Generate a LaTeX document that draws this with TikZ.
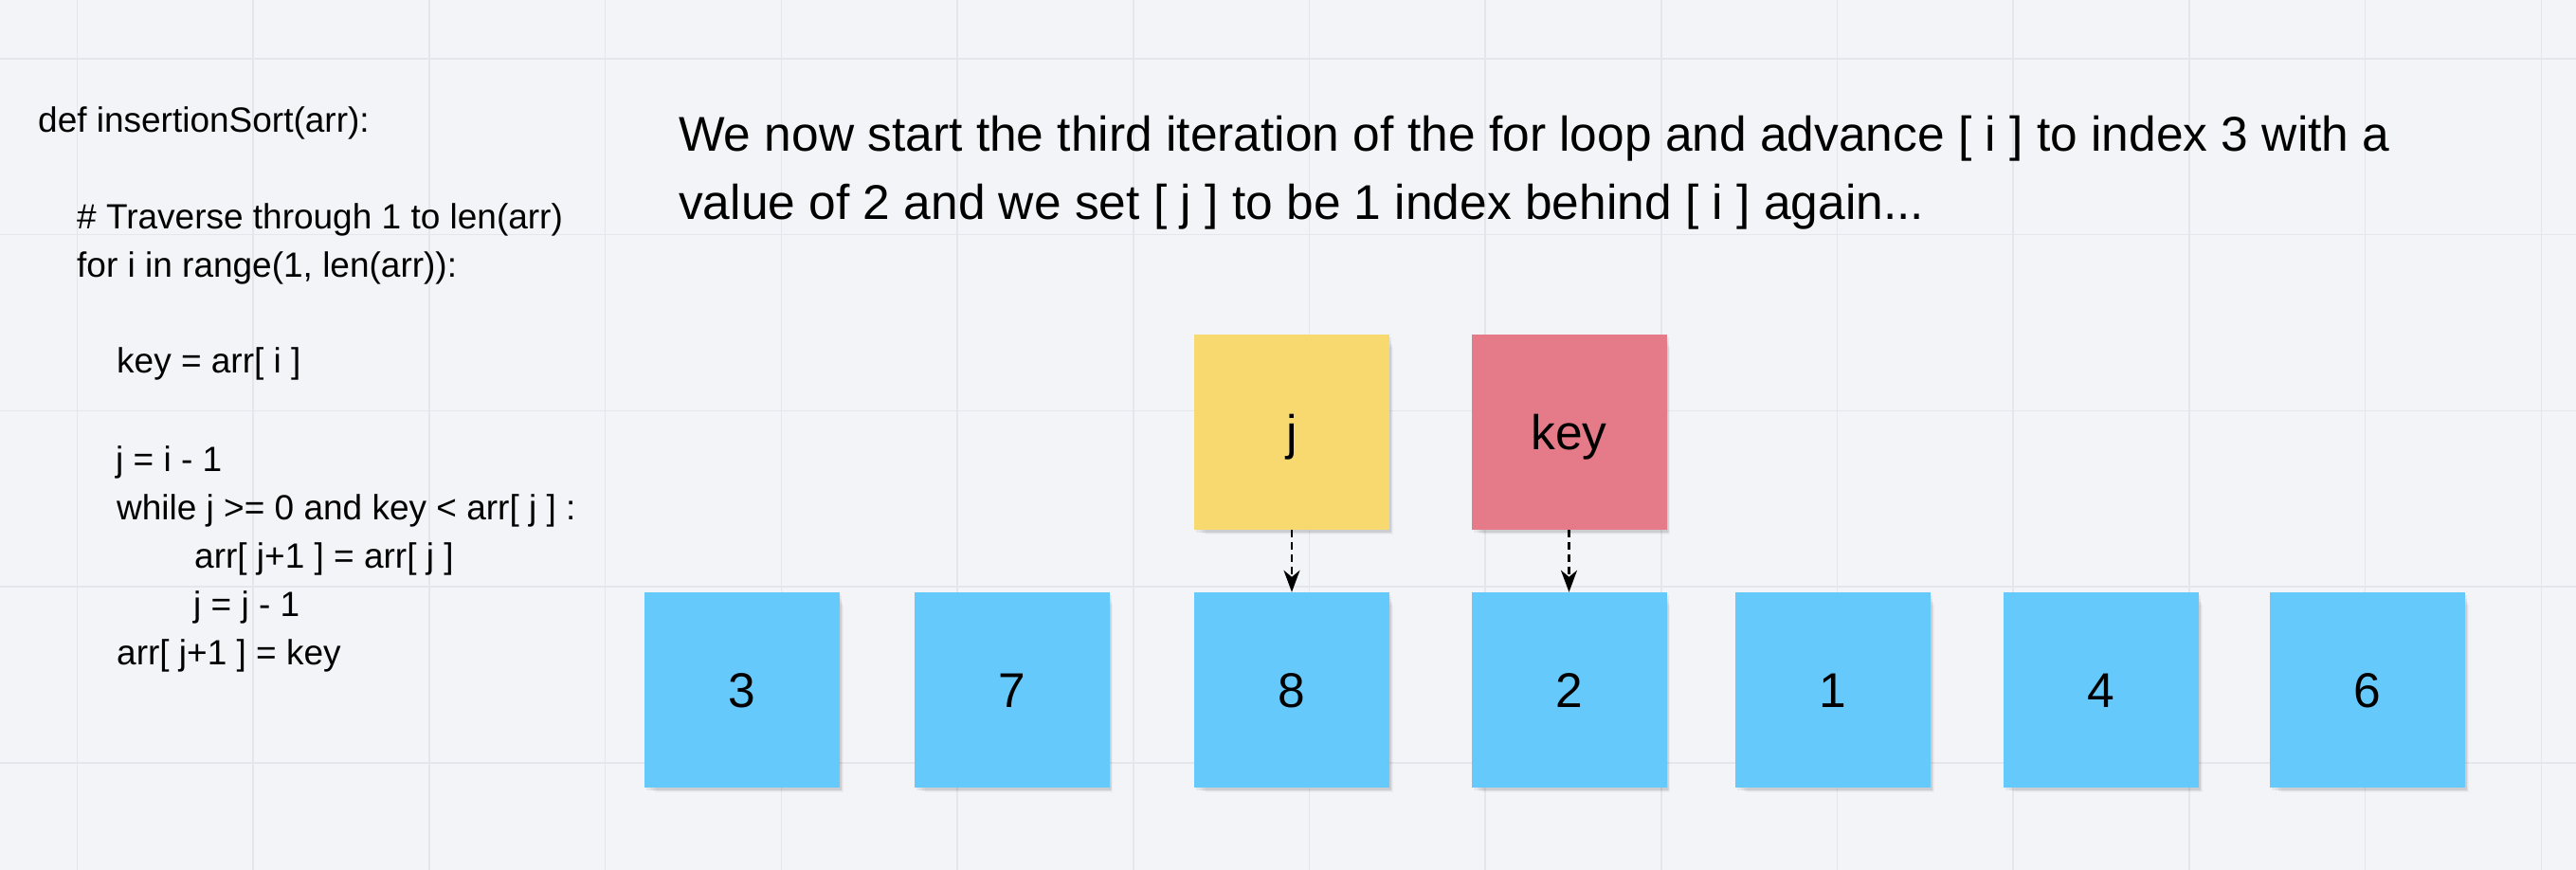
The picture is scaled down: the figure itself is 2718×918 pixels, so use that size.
\documentclass[tikz,border=0pt]{standalone}
\usepackage{fontspec}
\setmainfont{Liberation Sans}
\usetikzlibrary{arrows.meta,shadows}
\definecolor{bg}{HTML}{F3F4F8}
\definecolor{gridc}{HTML}{E5E6EB}
\definecolor{cellblue}{HTML}{66C9FB}
\definecolor{jyellow}{HTML}{F7D970}
\definecolor{keyred}{HTML}{E57A88}
\begin{document}
\begin{tikzpicture}[x=1pt,y=1pt,
  softshadow/.style={
    general shadow={shadow xshift=8pt, shadow yshift=-9pt, shadow scale=0.96, fill=black, opacity=0.03},
    general shadow={shadow xshift=6pt, shadow yshift=-7pt, shadow scale=0.97, fill=black, opacity=0.04},
    general shadow={shadow xshift=4pt, shadow yshift=-5pt, shadow scale=0.98, fill=black, opacity=0.04},
    general shadow={shadow xshift=2pt, shadow yshift=-3pt, fill=black, opacity=0.05}},
  cell/.style={rectangle, minimum width=206pt, minimum height=206pt, inner sep=0pt,
    font=\fontsize{51.5}{60}\selectfont, text height=37pt, text depth=0pt, softshadow},
  bluecell/.style={cell, fill=cellblue},
  gridline/.style={draw=gridc, line width=1.6pt},
  codeline/.style={anchor=base west, inner sep=0pt, font=\fontsize{37}{44}\selectfont},
  titleline/.style={anchor=base west, inner sep=0pt, font=\fontsize{51.5}{62}\selectfont},
  pointer/.style={draw=black, line width=2.6pt, dash pattern=on 8pt off 5pt,
    -{Stealth[length=23pt, width=17pt, inset=7pt]}}
]
\useasboundingbox (0,0) rectangle (2718,918);
\fill[bg] (0,0) rectangle (2718,918);
% grid
\foreach \k in {0,...,14} {
  \draw[gridline] ({81.5+185.7*\k},0) -- ({81.5+185.7*\k},918);
}
\foreach \k in {0,...,4} {
  \draw[gridline] (0,{856-185.7*\k}) -- (2718,{856-185.7*\k});
}

% code
\node[codeline] (l1) at (40,778) {def insertionSort(arr):};
\node[codeline] (l2) at (81,676) {\# Traverse through 1 to len(arr)};
\node[codeline] (l3) at (81,625) {for i in range(1, len(arr)):};
\node[codeline] (l4) at (123,524) {key = arr[ i ]};
\node[codeline] (l5) at (122,420) {j = i - 1};
\node[codeline] (l6) at (123,369) {while j >= 0 and key < arr[ j ] :};
\node[codeline] (l7) at (205,318) {arr[ j+1 ] = arr[ j ]};
\node[codeline] (l8) at (204,267) {j = j - 1};
\node[codeline] (l9) at (123,216) {arr[ j+1 ] = key};

% title
\node[titleline] (t1) at (716,758) {We now start the third iteration of the for loop and advance [ i ] to index 3 with a};
\node[titleline] (t2) at (716,686) {value of 2 and we set [ j ] to be 1 index behind [ i ] again...};

% array cells
\node[bluecell] (c3) at (783,190) {3};
\node[bluecell] (c7) at (1067.5,190) {7};
\node[bluecell] (c8) at (1363,190) {8};
\node[bluecell] (c2) at (1655.5,190) {2};
\node[bluecell] (c1) at (1934,190) {1};
\node[bluecell] (c4) at (2217,190) {4};
\node[bluecell] (c6) at (2498,190) {6};

% pointer boxes
\node[cell, fill=jyellow] (jbox) at (1363,462) {j};
\node[cell, fill=keyred] (keybox) at (1655.5,462) {key};

% arrows
\draw[pointer] (jbox.south) -- (c8.north);
\draw[pointer] (keybox.south) -- (c2.north);
\end{tikzpicture}
\end{document}
